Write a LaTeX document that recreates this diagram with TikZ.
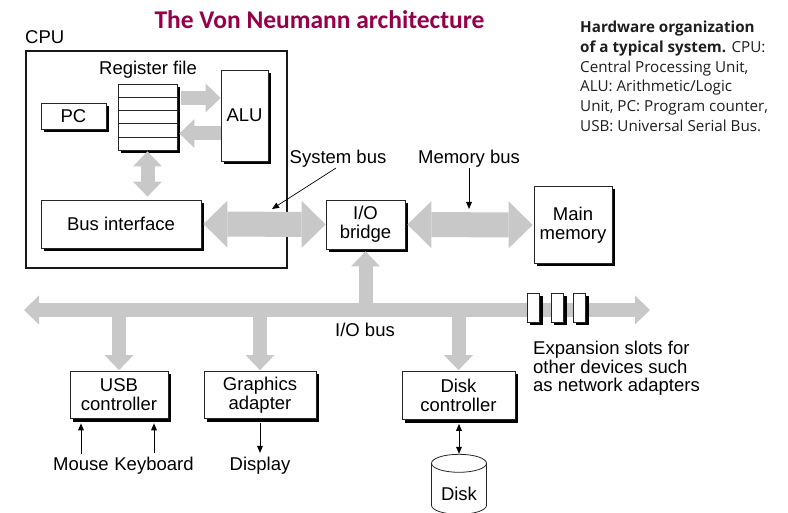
\documentclass[tikz,border=0pt]{standalone}
\usepackage{fontspec}
\setmainfont{Liberation Sans}
\newfontfamily\capfont{Open Sans}
\newfontfamily\titlefont{Carlito}
\usetikzlibrary{arrows.meta,shadows,calc}

\definecolor{busgray}{RGB}{200,200,200}
\definecolor{titlered}{RGB}{150,0,72}
\definecolor{captext}{RGB}{30,30,30}
\newcommand\lbl{\fontsize{18.5}{19}\selectfont}

\tikzset{
  x=1pt, y=-1pt,
  iohead/.tip={Triangle[length=15pt,width=29pt,line width=0pt]},
  syshead/.tip={Triangle[length=24pt,width=47pt,line width=0pt]},
  thinhead/.tip={Triangle[length=7pt,width=6pt,line width=0pt]},
  box/.style={draw=black!85, line width=0.8pt, fill=white, inner sep=0pt,
    align=center, font=\lbl,
    drop shadow={shadow xshift=3pt, shadow yshift=-3pt, opacity=1, fill=black}},
  slot/.style={box, minimum width=12pt, minimum height=29pt,
    drop shadow={shadow xshift=4pt, shadow yshift=-3pt, opacity=1, fill=black}},
  label/.style={inner sep=0pt, font=\lbl, anchor=base},
  iobus/.style={draw=busgray, line width=14pt},
  sysbus/.style={draw=busgray, line width=25pt},
  ptr/.style={draw=black, line width=0.7pt},
}

\begin{document}
\begin{tikzpicture}
\useasboundingbox (0,0) rectangle (788,513);

% title and caption
\node[font=\titlefont\bfseries\fontsize{25.5}{30}\selectfont, text=titlered,
      anchor=base, inner sep=0pt] (title) at (319.5,29) {The Von Neumann architecture};
\node[anchor=north west, align=left, inner sep=0pt, text=captext,
      font=\capfont\fontsize{15.2}{19.7}\selectfont] (caption) at (580,21)
  {\textbf{Hardware organization}\\
   \textbf{of a typical system.} CPU:\\
   Central Processing Unit,\\
   ALU: Arithmetic/Logic\\
   Unit, PC: Program counter,\\
   USB: Universal Serial Bus.};

% CPU
\node[label, anchor=base west] (cpulbl) at (25,44) {CPU};
\node[draw=black!90, line width=2pt, minimum width=261pt, minimum height=217pt,
      inner sep=0pt] (cpu) at (156.5,159.5) {};
\node[box, minimum width=59pt, minimum height=66pt] (reg) at (147.5,117) {};
\foreach \k in {1,2,3,4}
  \draw[black!85, line width=0.8pt]
    ($(reg.north west)!\k/5!(reg.south west)$) -- ($(reg.north east)!\k/5!(reg.south east)$);
\node[label] (reglbl) at (148,75) {Register file};
\node[box, minimum width=65pt, minimum height=26pt] (pc) at (73.5,116) {PC};
\node[box, minimum width=47pt, minimum height=91pt] (alu) at (244.5,115.5) {ALU};
\node[box, minimum width=160pt, minimum height=48pt] (busif) at (121,224) {Bus interface};

% bridge and memory
\node[box, minimum width=79pt, minimum height=49pt] (bridge) at (365.5,224.5) {I/O\\bridge};
\node[box, minimum width=78pt, minimum height=77pt] (mem) at (573,225) {Main\\memory};

% I/O devices
\node[box, minimum width=98pt, minimum height=47pt] (usb) at (119,395) {USB\\controller};
\node[box, minimum width=112pt, minimum height=47pt] (gfx) at (260,395) {Graphics\\adapter};
\node[box, minimum width=113pt, minimum height=48pt] (dctl) at (458.5,395.5) {Disk\\controller};

% bus end points
\coordinate (busL) at (24,310);
\coordinate (busR) at (650,310);

% wide data paths
\draw[iobus, iohead-iohead] (busL) -- (busR);
\draw[iobus, -iohead] (bridge.south |- busL) -- ([yshift=-2pt]bridge.south);
\draw[iobus, -iohead] (usb.north |- busL) -- ([yshift=1pt]usb.north);
\draw[iobus, -iohead] (gfx.north |- busL) -- ([yshift=1pt]gfx.north);
\draw[iobus, -iohead] (dctl.north |- busL) -- ([yshift=1pt]dctl.north);
\draw[sysbus, syshead-syshead] ([xshift=2pt]busif.east) -- (bridge.west);
\draw[sysbus, syshead-syshead] ([xshift=2pt]bridge.east) -- ([xshift=-1pt]mem.west);
\draw[iobus, -iohead] ([xshift=4pt,yshift=19pt]reg.east) -- ([yshift=17.5pt]alu.west);
\draw[iobus, -iohead] ([yshift=-18pt]alu.west) -- ([xshift=2pt,yshift=-16.5pt]reg.east);
\draw[iobus, iohead-iohead] ([yshift=-1pt]reg.south) -- ([yshift=3pt]reg.south |- busif.north);

% expansion slots
\node[slot] (slot1) at (533,307.5) {};
\node[slot] (slot2) at (557,307.5) {};
\node[slot] (slot3) at (579,307.5) {};

% bus labels
\node[label] (syslbl) at (338,164) {System bus};
\node[label] (memlbl) at (469,164) {Memory bus};
\node[label] (iolbl) at (365,337) {I/O bus};
\coordinate (systip) at (272,209);
\coordinate (memtip) at (469,209);
\draw[ptr, -thinhead] ([xshift=-2pt]syslbl.south) -- (systip);
\draw[ptr, -thinhead] (memlbl.south) -- (memtip);

\node[anchor=north west, align=left, inner sep=0pt, font=\fontsize{18.5}{18.4}\selectfont]
  (explbl) at (533,341) {Expansion slots for\\other devices such\\as network adapters};

% peripherals
\node[label] (mouse) at (81,470) {Mouse};
\node[label] (kbd) at (154,470) {Keyboard};
\node[label] (disp) at (260,470) {Display};
\draw[ptr, -thinhead, shorten <=3pt, shorten >=4.5pt] (mouse.north) -- (mouse.north |- usb.south);
\draw[ptr, -thinhead, shorten <=3pt, shorten >=4.5pt] (kbd.north) -- (kbd.north |- usb.south);
\draw[ptr, -thinhead, shorten <=4.5pt, shorten >=3.5pt] (disp.north |- gfx.south) -- (disp.north);

% disk
\node[inner sep=0pt, font=\lbl, minimum width=55pt, minimum height=79pt] (disk) at (459,494) {Disk};
\draw[black!85, line width=0.8pt] ($(disk.north)+(0,9)$) ellipse [x radius=27.5, y radius=9];
\draw[black!85, line width=0.8pt] ($(disk.north)+(-27.5,9)$) -- ++(0,42)
  arc[start angle=180, end angle=0, x radius=27.5, y radius=9] -- ++(0,-42);
\draw[ptr, thinhead-thinhead, shorten <=4pt, shorten >=0.5pt] (dctl.south -| disk.north) -- (disk.north);
\end{tikzpicture}
\end{document}
